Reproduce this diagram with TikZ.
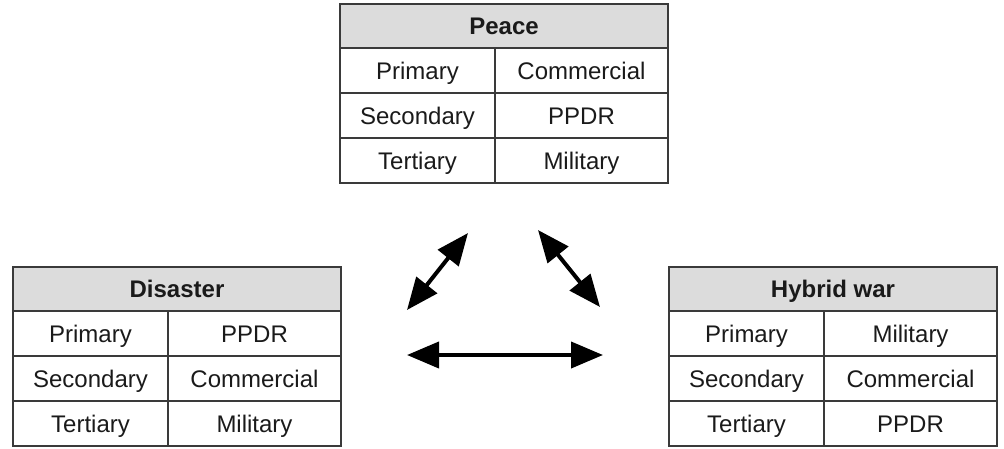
\documentclass[tikz,border=0pt]{standalone}
\usepackage{fontspec}
\setmainfont{Liberation Sans}
\usetikzlibrary{arrows.meta}
\definecolor{hdr}{HTML}{DCDCDC}
\definecolor{edgec}{HTML}{3A3A3A}
\definecolor{txt}{HTML}{1A1A1A}
\tikzset{
 cell/.style={draw=edgec, line width=1.6pt, inner sep=0pt, outer sep=0pt, anchor=north west, font=\fontsize{24}{28}\selectfont, text=txt, minimum height=45pt, text height=17pt, text depth=0pt},
 hdrcell/.style={cell, fill=hdr, font=\bfseries\fontsize{24}{28}\selectfont, minimum height=44pt, minimum width=328pt},
 lcol/.style={cell, minimum width=155pt},
 rcol/.style={cell, minimum width=173pt},
 bigarrow/.style={line width=4pt, {Triangle[length=32pt,width=26pt]}-{Triangle[length=32pt,width=26pt]}}
}
\newcommand\statetable[7]{%
 \node[hdrcell] (#1h) at (#2,#3) {#4};
 \node[lcol] (#1l1) at (#1h.south west) {Primary};
 \node[rcol] (#1r1) at (#1l1.north east) {#5};
 \node[lcol] (#1l2) at (#1l1.south west) {Secondary};
 \node[rcol] (#1r2) at (#1l2.north east) {#6};
 \node[lcol] (#1l3) at (#1l2.south west) {Tertiary};
 \node[rcol] (#1r3) at (#1l3.north east) {#7};
}
\begin{document}
\begin{tikzpicture}[x=1pt,y=-1pt]
\useasboundingbox (0,0) rectangle (1004,448);
\statetable{peace}{340}{4}{Peace}{Commercial}{PPDR}{Military}
\statetable{dis}{13}{267}{Disaster}{PPDR}{Commercial}{Military}
\statetable{hyb}{669}{267}{Hybrid war}{Military}{Commercial}{PPDR}
\coordinate (a1) at (407,310);
\coordinate (a2) at (468,233);
\coordinate (b1) at (538,230);
\coordinate (b2) at (600,307);
\coordinate (c1) at (407,355);
\coordinate (c2) at (603,355);
\draw[bigarrow] (a1) -- (a2);
\draw[bigarrow] (b1) -- (b2);
\draw[bigarrow] (c1) -- (c2);
\end{tikzpicture}
\end{document}
